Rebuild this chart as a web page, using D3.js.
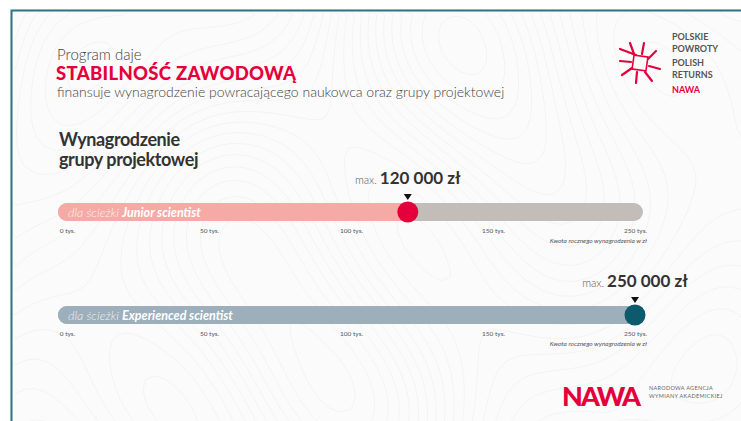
<!DOCTYPE html>
<html>
<head>
<meta charset="utf-8">
<script src="https://cdn.jsdelivr.net/npm/d3@7"></script>
<style>
  body { margin: 0; background: #fff; }
  svg { display: block; font-family: Lato, "Open Sans", sans-serif; }
</style>
</head>
<body>
<div id="svganchor"></div>
<script>
let width = 741;
let height = 421;

// data
let tracks = ["Junior scientist", "Experienced scientist"];
let maxValues = [120, 250]; // tys. zł
let maxLabels = ["120 000 zł", "250 000 zł"];
let tickValues = [0, 50, 100, 150, 250];
let tickLabels = ["0 tys.", "50 tys.", "100 tys.", "150 tys.", "250 tys."];

let colors = {
  red: "#e4003b",
  pink: "#f5aaa6",
  rest: "#c3bdb9",
  teal: "#0c5a6b",
  steel: "#9cafbb",
  text: "#333333"
};
let fillColors = [colors.pink, colors.steel];
let restColors = [colors.rest, colors.steel];
let dotColors = [colors.red, colors.teal];

let svg = d3.select("#svganchor").append("svg").attr("width", width).attr("height", height);

// background + frame
svg.append("rect").attr("x", 11).attr("y", 10).attr("width", width).attr("height", height)
  .attr("fill", "#fbfbfb");

// faint contour texture
let gw = 80, gh = 45;
let field = new Array(gw * gh);
for (let j = 0; j < gh; ++j) {
  for (let i = 0; i < gw; ++i) {
    field[j * gw + i] = Math.sin(i / 9) * Math.cos(j / 7) + Math.sin((i + j) / 13) + 0.5 * Math.cos(i / 5 - j / 11);
  }
}
let contours = d3.contours().size([gw, gh]).thresholds(d3.range(-2.2, 2.4, 0.18))(field);
svg.append("g")
  .attr("transform", "translate(11,10) scale(" + (width / gw) + "," + (height / gh) + ")")
  .selectAll("path")
  .data(contours)
  .enter()
  .append("path")
  .attr("d", d3.geoPath())
  .attr("fill", "none")
  .attr("stroke", "#f1f1f1")
  .attr("stroke-width", 0.8)
  .attr("vector-effect", "non-scaling-stroke");

svg.append("path")
  .attr("d", "M11.5," + height + "V10.5H" + width)
  .attr("fill", "none")
  .attr("stroke", "#2b7585")
  .attr("stroke-width", 2);

// header
svg.append("text").attr("x", 57).attr("y", 60)
  .attr("font-size", 15).attr("fill", "#444").attr("font-weight", 300)
  .text("Program daje");
svg.append("text").attr("x", 56).attr("y", 80)
  .attr("font-size", 18.5).attr("fill", colors.red).attr("font-weight", 900)
  .attr("letter-spacing", 0.3)
  .text("STABILNOŚĆ ZAWODOWĄ");
svg.append("text").attr("x", 57).attr("y", 97)
  .attr("font-size", 14).attr("fill", "#444").attr("font-weight", 300)
  .text("finansuje wynagrodzenie powracającego naukowca oraz grupy projektowej");

svg.append("text").attr("x", 59).attr("y", 146)
  .attr("font-size", 18).attr("fill", colors.text).attr("font-weight", 700)
  .attr("letter-spacing", -0.4)
  .text("Wynagrodzenie");
svg.append("text").attr("x", 59).attr("y", 166)
  .attr("font-size", 18).attr("fill", colors.text).attr("font-weight", 700)
  .attr("letter-spacing", -0.4)
  .text("grupy projektowej");

// top-right logo
let logo = svg.append("g").attr("transform", "translate(640,63)");
let rays = [[-20, -14, -4, -8], [4, -20, 2, -9], [16, -12, 8, -4], [20, 6, 9, 3], [12, 18, 5, 9], [-4, 20, -3, 9], [-18, 12, -8, 5], [-20, -2, -9, -1], [-10, -20, -6, -9]];
logo.selectAll("line")
  .data(rays)
  .enter()
  .append("line")
  .attr("x1", d => d[0]).attr("y1", d => d[1])
  .attr("x2", d => d[2]).attr("y2", d => d[3])
  .attr("stroke", colors.red).attr("stroke-width", 2.2).attr("stroke-linecap", "round");
logo.append("rect").attr("x", -7).attr("y", -7).attr("width", 14).attr("height", 14)
  .attr("fill", "none").attr("stroke", colors.red).attr("stroke-width", 1.6)
  .attr("transform", "rotate(8)");

let logoLines = [["POLSKIE", 40, "#555"], ["POWROTY", 52, "#555"], ["POLISH", 66, "#555"], ["RETURNS", 78, "#555"], ["NAWA", 93, colors.red]];
svg.selectAll(".logo-text")
  .data(logoLines)
  .enter()
  .append("text")
  .attr("class", "logo-text")
  .attr("x", 672)
  .attr("y", d => d[1])
  .attr("font-size", 9)
  .attr("font-weight", 700)
  .attr("fill", d => d[2])
  .text(d => d[0]);

// scale: the axis is compressed after 150 tys.
let xScale = d3.scaleLinear().domain([0, 150, 250]).range([67, 493, 635]);

let rowY = [212, 315];
let barH = 18;

tracks.forEach(function (track, i) {
  let y = rowY[i];
  let g = svg.append("g").attr("class", "track");
  let x0 = xScale(0) - 9;
  let x1 = xScale(250) + 8;
  let xv = xScale(maxValues[i]);

  // background bar
  g.append("rect")
    .attr("x", x0).attr("y", y - barH / 2)
    .attr("width", x1 - x0).attr("height", barH)
    .attr("rx", barH / 2)
    .attr("fill", restColors[i]);

  // value bar
  g.append("rect")
    .attr("x", x0).attr("y", y - barH / 2)
    .attr("width", xv - x0).attr("height", barH)
    .attr("rx", barH / 2)
    .attr("fill", fillColors[i]);
  g.append("rect")
    .attr("x", xv - barH).attr("y", y - barH / 2)
    .attr("width", barH).attr("height", barH)
    .attr("fill", fillColors[i]);

  // label in bar
  let label = g.append("text")
    .attr("x", 68).attr("y", y + 4.5)
    .attr("font-size", 12.5).attr("font-style", "italic").attr("fill", "#fff");
  label.append("tspan").attr("font-weight", 300).attr("fill-opacity", 0.85).text("dla ścieżki ");
  label.append("tspan").attr("font-weight", 700).text(track);

  // dot
  g.append("circle")
    .attr("cx", xv).attr("cy", y).attr("r", 10.5)
    .attr("fill", dotColors[i]);

  // marker triangle
  g.append("path")
    .attr("d", "M" + (xv - 4) + "," + (y - 18) + "h8l-4,6z")
    .attr("fill", "#111");

  // max label
  let maxText = g.append("text")
    .attr("x", xv).attr("y", y - 28)
    .attr("text-anchor", "middle")
    .attr("fill", colors.text);
  maxText.append("tspan").attr("font-size", 11).attr("font-weight", 300).attr("fill", "#555").text("max. ");
  maxText.append("tspan").attr("font-size", 17).attr("font-weight", 700).text(maxLabels[i]);

  // axis
  let xAxis = d3.axisBottom(xScale)
    .tickValues(tickValues)
    .tickFormat((d, k) => tickLabels[k])
    .tickSize(0)
    .tickPadding(0);
  let ax = g.append("g")
    .attr("class", "x axis")
    .attr("transform", "translate(0," + (y + 16) + ")")
    .call(xAxis);
  ax.select(".domain").remove();
  ax.selectAll("text")
    .attr("font-family", "Lato, sans-serif")
    .attr("font-size", 6.5)
    .attr("fill", "#555");

  g.append("text")
    .attr("x", 647).attr("y", y + 31)
    .attr("text-anchor", "end")
    .attr("font-size", 6.5).attr("font-style", "italic").attr("fill", "#555")
    .text("Kwota rocznego wynagrodzenia w zł");
});

// bottom logo
svg.append("text")
  .attr("x", 562).attr("y", 406)
  .attr("font-size", 27).attr("font-weight", 900)
  .attr("fill", colors.red)
  .attr("letter-spacing", -1)
  .attr("textLength", 78)
  .text("NAWA");
svg.append("text").attr("x", 649).attr("y", 390)
  .attr("font-size", 5.5).attr("fill", "#666").attr("letter-spacing", 0.3)
  .text("NARODOWA AGENCJA");
svg.append("text").attr("x", 649).attr("y", 398)
  .attr("font-size", 5.5).attr("fill", "#666").attr("letter-spacing", 0.3)
  .text("WYMIANY AKADEMICKIEJ");
</script>
</body>
</html>
